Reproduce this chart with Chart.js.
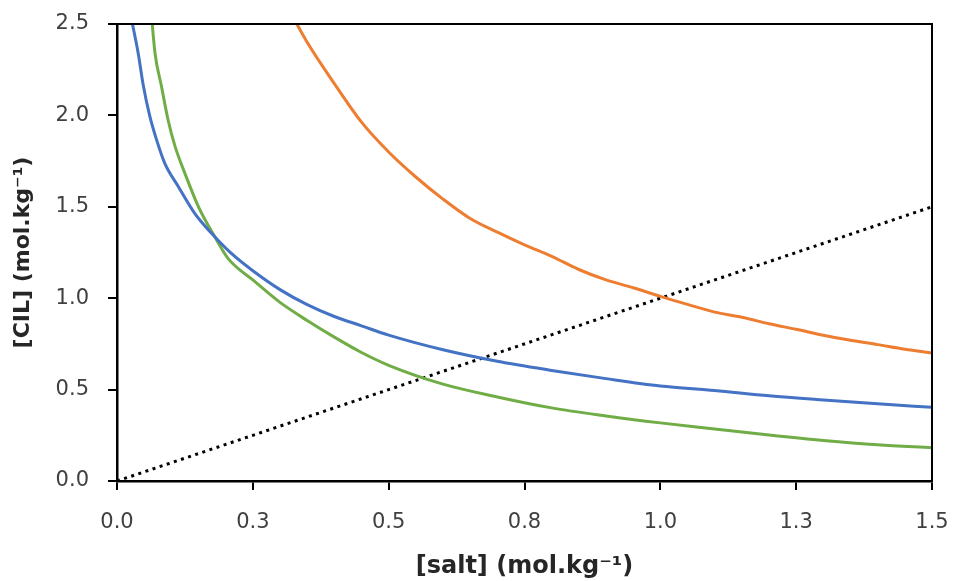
<!DOCTYPE html>
<html>
<head>
<meta charset="utf-8">
<script src="https://cdn.jsdelivr.net/npm/chart.js@4"></script>
<style>
  html, body { margin: 0; padding: 0; background: #fff; }
  #wrap { width: 953px; height: 581px; }
</style>
</head>
<body>
<div id="wrap"><canvas id="cilChart"></canvas></div>
<script>
// [salt] vs [CIL] curves (mol/kg)
const blueSalt = [0.025, 0.039, 0.048, 0.06, 0.073, 0.088, 0.113, 0.143, 0.174, 0.21, 0.25, 0.3, 0.35, 0.4, 0.45, 0.5, 0.6, 0.7, 0.8, 0.9, 1.0, 1.1, 1.2, 1.3, 1.4, 1.5];
const blueCil = [2.55, 2.34, 2.17, 2.0, 1.865, 1.738, 1.61, 1.464, 1.355, 1.246, 1.15, 1.047, 0.965, 0.9, 0.849, 0.798, 0.718, 0.655, 0.605, 0.56, 0.52, 0.495, 0.466, 0.443, 0.422, 0.403];

const orangeSalt = [0.32, 0.35, 0.4, 0.45, 0.5, 0.55, 0.6, 0.65, 0.7, 0.75, 0.8, 0.85, 0.9, 0.95, 1.0, 1.05, 1.1, 1.15, 1.2, 1.25, 1.3, 1.35, 1.4, 1.45, 1.5];
const orangeCil = [2.56, 2.4, 2.174, 1.963, 1.8, 1.663, 1.542, 1.436, 1.361, 1.292, 1.229, 1.157, 1.1, 1.057, 1.01, 0.966, 0.924, 0.896, 0.86, 0.83, 0.797, 0.77, 0.746, 0.721, 0.7];

const greenSalt = [0.062, 0.07, 0.082, 0.094, 0.107, 0.125, 0.15, 0.18, 0.205, 0.25, 0.3, 0.35, 0.4, 0.45, 0.5, 0.6, 0.7, 0.8, 0.9, 1.0, 1.1, 1.2, 1.3, 1.4, 1.5];
const greenCil = [2.6, 2.34, 2.157, 1.975, 1.829, 1.683, 1.5, 1.336, 1.215, 1.1, 0.977, 0.878, 0.787, 0.703, 0.633, 0.53, 0.46, 0.4, 0.356, 0.318, 0.285, 0.252, 0.222, 0.198, 0.182];

// 1:1 reference line
const diagSalt = [0, 1.5];
const diagCil = [0, 1.5];

const xTicksStep = 0.25;
const yTicksStep = 0.5;

const toPoints = (xs, ys) => xs.map((x, i) => ({ x: x, y: ys[i] }));

const FONT = "'DejaVu Sans', sans-serif";

// top + right frame lines around the plot
const frame = {
  id: "frame",
  afterDatasetsDraw(chart) {
    const a = chart.chartArea;
    const ctx = chart.ctx;
    ctx.save();
    ctx.strokeStyle = "#000";
    ctx.lineWidth = 2;
    ctx.beginPath();
    ctx.moveTo(a.left, a.top);
    ctx.lineTo(a.right, a.top);
    ctx.lineTo(a.right, a.bottom);
    ctx.stroke();
    ctx.restore();
  }
};

const line = (xs, ys, color) => ({
  data: toPoints(xs, ys),
  borderColor: color,
  borderWidth: 3,
  pointRadius: 0,
  cubicInterpolationMode: "monotone",
  fill: false
});

new Chart(document.getElementById("cilChart"), {
  type: "scatter",
  data: {
    datasets: [
      line(blueSalt, blueCil, "#4472C4"),
      line(orangeSalt, orangeCil, "#ED7D31"),
      line(greenSalt, greenCil, "#70AD47"),
      {
        data: toPoints(diagSalt, diagCil),
        borderColor: "#000",
        borderWidth: 3,
        borderDash: [3, 4.5],
        pointRadius: 0,
        fill: false
      }
    ]
  },
  options: {
    responsive: true,
    maintainAspectRatio: false,
    animation: false,
    showLine: true,
    layout: { padding: { top: 24, right: 21, left: 10, bottom: 0 } },
    plugins: { legend: { display: false }, tooltip: { enabled: false } },
    scales: {
      x: {
        type: "linear",
        min: 0,
        max: 1.5,
        afterFit(scale) {
          scale.height = 100;
          scale.paddingLeft = 0;
          scale.paddingRight = 0;
        },
        border: { color: "#000", width: 2.5 },
        grid: { drawOnChartArea: false, drawTicks: true, tickLength: 9, color: "#000", lineWidth: 2 },
        ticks: {
          stepSize: xTicksStep,
          padding: 20,
          color: "#404040",
          font: { family: FONT, size: 21 },
          callback: (v) => v.toFixed(1)
        },
        title: {
          display: true,
          text: "[salt] (mol.kg⁻¹)",
          color: "#262626",
          font: { family: FONT, size: 24, weight: "bold" },
          padding: { top: 14, bottom: 0 }
        }
      },
      y: {
        type: "linear",
        min: 0,
        max: 2.5,
        afterFit(scale) {
          scale.width = 107;
          scale.paddingTop = 0;
          scale.paddingBottom = 0;
        },
        border: { color: "#000", width: 2.5 },
        grid: { drawOnChartArea: false, drawTicks: true, tickLength: 9, color: "#000", lineWidth: 2 },
        ticks: {
          stepSize: yTicksStep,
          padding: 19,
          color: "#404040",
          font: { family: FONT, size: 21 },
          callback: (v) => v.toFixed(1)
        },
        title: {
          display: true,
          text: "[CIL] (mol.kg⁻¹)",
          color: "#262626",
          font: { family: FONT, size: 22, weight: "bold" },
          padding: { top: 0, bottom: 0 }
        }
      }
    }
  },
  plugins: [frame]
});
</script>
</body>
</html>
